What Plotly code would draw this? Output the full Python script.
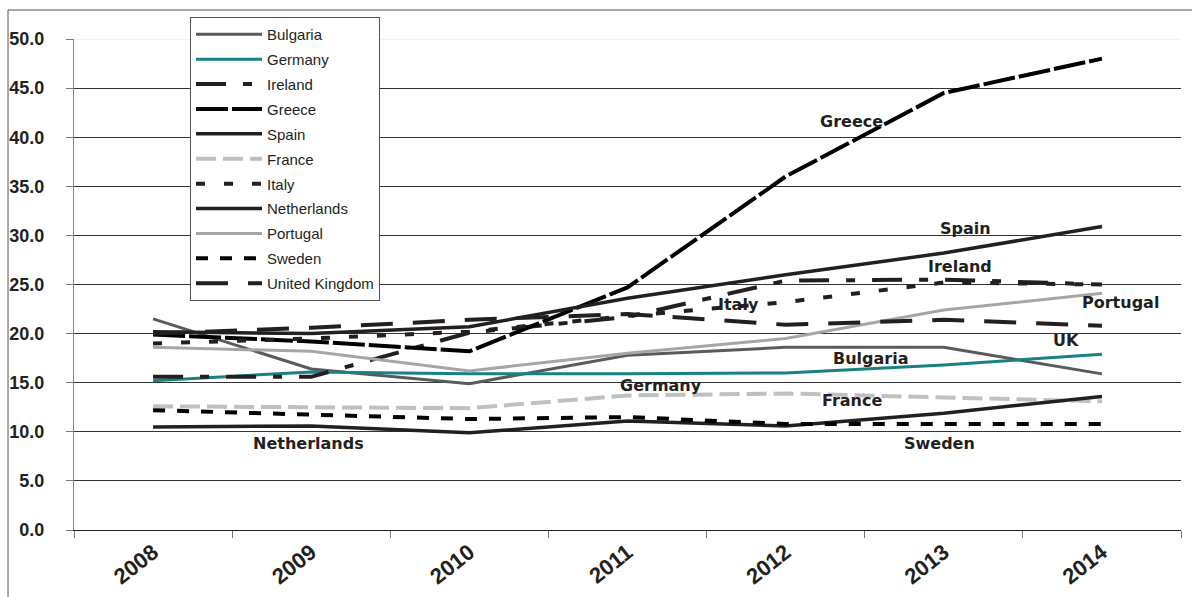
import plotly.graph_objects as go

# Years on the category axis
years = ["2008", "2009", "2010", "2011", "2012", "2013", "2014"]

# Series values (%)
bulgaria = [21.5, 16.4, 14.9, 17.8, 18.6, 18.6, 15.9]
germany = [15.2, 16.1, 15.9, 15.9, 16.0, 16.8, 17.9]
ireland = [15.6, 15.6, 20.1, 21.7, 25.4, 25.5, 25.0]
greece = [19.9, 19.2, 18.2, 24.7, 36.0, 44.5, 48.0]
spain = [20.2, 20.0, 20.7, 23.6, 26.0, 28.2, 30.9]
france = [12.6, 12.5, 12.4, 13.7, 13.9, 13.5, 13.1]
italy = [19.0, 19.5, 20.2, 21.8, 23.2, 25.2, 25.0]
netherlands = [10.5, 10.6, 9.9, 11.1, 10.6, 11.9, 13.6]
portugal = [18.6, 18.2, 16.2, 18.0, 19.5, 22.4, 24.1]
sweden = [12.2, 11.8, 11.3, 11.5, 10.8, 10.8, 10.8]
uk = [20.0, 20.6, 21.4, 22.0, 20.9, 21.4, 20.8]

INK = "#231F20"

series = [
    ("Bulgaria", bulgaria, dict(color="#5A5A5A", width=3)),
    ("Germany", germany, dict(color="#168282", width=3)),
    ("Ireland", ireland, dict(color=INK, width=4, dash="30px,17px,9px,17px")),
    ("Greece", greece, dict(color="#000000", width=4, dash="32px,4px")),
    ("Spain", spain, dict(color=INK, width=3.5)),
    ("France", france, dict(color="#C0C0C0", width=4, dash="20px,7px")),
    ("Italy", italy, dict(color=INK, width=4, dash="9px,19px")),
    ("Netherlands", netherlands, dict(color=INK, width=3.5)),
    ("Portugal", portugal, dict(color="#A6A6A6", width=3)),
    ("Sweden", sweden, dict(color="#000000", width=4, dash="12px,12px")),
    ("United Kingdom", uk, dict(color=INK, width=4, dash="32px,20px")),
]

fig = go.Figure()
for i, (name, vals, line) in enumerate(series):
    fig.add_trace(go.Scatter(x=years, y=vals, name=name, mode="lines",
                             line=line, legendgroup=f"g{i}"))

# In-chart series labels: (text, category position, value)
labels = [
    ("Greece", 4.415, 41.6),
    ("Spain", 5.14, 30.75),
    ("Ireland", 5.10, 26.8),
    ("Italy", 3.70, 23.0),
    ("Portugal", 6.12, 23.2),
    ("UK", 5.77, 19.25),
    ("Bulgaria", 4.54, 17.5),
    ("Germany", 3.21, 14.75),
    ("France", 4.42, 13.2),
    ("Netherlands", 0.98, 8.85),
    ("Sweden", 4.97, 8.85),
]
for text, xp, yp in labels:
    fig.add_annotation(x=xp, y=yp, xref="x", yref="y", text=f"<b>{text}</b>",
                       showarrow=False,
                       font=dict(family="DejaVu Sans", size=16, color=INK),
                       xanchor="center", yanchor="middle")

# Outer frame and light top edge of the plotting area
fig.add_shape(type="rect", xref="paper", yref="paper", x0=-0.0596, x1=1.2, y0=-0.3, y1=1.059,
              line=dict(color="#555555", width=1), layer="below")
fig.add_shape(type="line", xref="paper", yref="y", x0=0, x1=1, y0=50, y1=50,
              line=dict(color="#E6E6E6", width=1.2), layer="above")

fig.update_layout(
    template="none",
    width=1192, height=597,
    margin=dict(l=74, r=11, t=39, b=67),
    paper_bgcolor="white", plot_bgcolor="white",
    font=dict(family="Liberation Sans", color=INK),
    showlegend=True,
    legend=dict(x=0.1048, y=1.0448, xanchor="left", yanchor="top",
                bgcolor="white", bordercolor="#555555", borderwidth=1,
                font=dict(family="Liberation Sans", size=15, color=INK),
                itemwidth=66, tracegroupgap=2.4, traceorder="grouped"),
    xaxis=dict(type="category", tickson="boundaries", ticks="outside", ticklen=7,
               tickcolor="#777777", showline=True, linecolor=INK, linewidth=1,
               showgrid=False, zeroline=False, tickangle=-38, automargin=False,
               tickfont=dict(family="Liberation Sans", size=22, color=INK),
               tickprefix="<b>", ticksuffix="</b>",
               range=[-0.5, 6.5]),
    yaxis=dict(range=[0, 50], dtick=5, tick0=0, tickformat=".1f", ticks="outside",
               ticklen=7, tickcolor="#777777", showline=True, linecolor="#888888",
               linewidth=1, showgrid=True, gridcolor="#333333", gridwidth=1,
               zeroline=False, automargin=False, ticklabelstandoff=18,
               tickprefix="<b>", ticksuffix="</b>",
               tickfont=dict(family="Liberation Sans", size=18, color=INK)),
)

fig.write_html("out.html")
